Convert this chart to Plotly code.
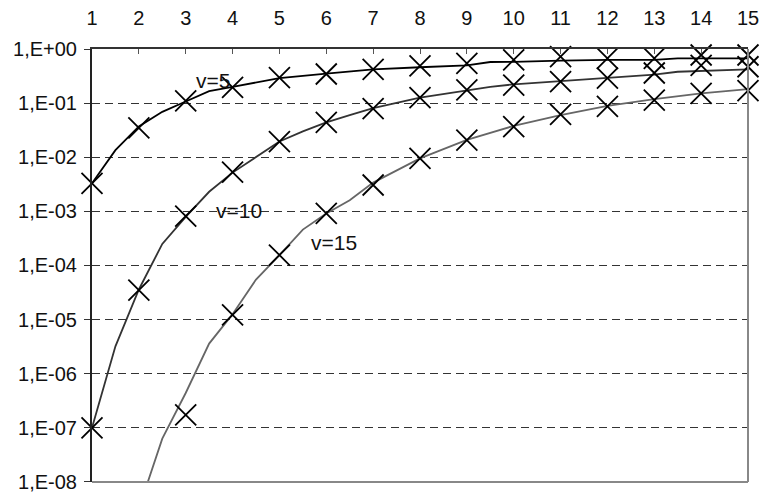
import plotly.graph_objects as go

# Marker data (integer x)
x_pts = list(range(1, 16))
v5_pts = [3.3e-3, 3.5e-2, 0.11, 0.196, 0.295, 0.345, 0.42, 0.49, 0.54, 0.63, 0.72, 0.67, 0.67, 0.775, 0.775]
v10_pts = [1e-7, 3.5e-5, 8.2e-4, 5.3e-3, 1.94e-2, 4.4e-2, 7.9e-2, 0.126, 0.175, 0.216, 0.25, 0.29, 0.36, 0.5, 0.47]
v15_pts = [None, None, 1.73e-7, 1.22e-5, 1.56e-4, 9.2e-4, 3.07e-3, 9.5e-3, 2.08e-2, 3.67e-2, 6.2e-2, 8.7e-2, 0.114, 0.152, 0.17]

# Curve data
v5_cx = [1, 1.5, 2, 2.5, 3, 3.5, 4, 5, 6, 7, 8, 9, 9.5, 10, 11, 12, 13, 13.5, 14, 15]
v5_cy = [3.3e-3, 1.35e-2, 3.7e-2, 6.9e-2, 0.107, 0.166, 0.2, 0.29, 0.35, 0.42, 0.46, 0.50,
         0.575, 0.58, 0.61, 0.63, 0.63, 0.67, 0.67, 0.67]
v10_cx = [1, 1.5, 2, 2.5, 3, 3.5, 4, 4.5, 5, 5.5, 6, 6.5, 7, 8, 9, 9.5, 10, 11, 12, 13, 13.5, 14, 15]
v10_cy = [1e-7, 3.2e-6, 3.6e-5, 2.5e-4, 7.9e-4, 2.3e-3, 5.2e-3, 1.02e-2, 1.95e-2, 3.0e-2, 4.4e-2,
          6.0e-2, 8.1e-2, 0.126, 0.175, 0.2, 0.222, 0.256, 0.295, 0.336, 0.38, 0.39, 0.42]
v15_cx = [2, 2.5, 3, 3.5, 4, 4.5, 5, 5.5, 6, 6.5, 7, 8, 9, 10, 11, 12, 13, 13.5, 14, 15]
v15_cy = [3.2e-9, 6.3e-8, 4.4e-7, 3.6e-6, 1.26e-5, 5.5e-5, 1.55e-4, 4.6e-4, 9.1e-4, 1.6e-3,
          3.4e-3, 9.5e-3, 2.1e-2, 3.8e-2, 6.0e-2, 8.9e-2, 0.119, 0.135, 0.152, 0.182]

y_tickvals = [1, 1e-1, 1e-2, 1e-3, 1e-4, 1e-5, 1e-6, 1e-7, 1e-8]
y_ticktext = ["1,E+00", "1,E-01", "1,E-02", "1,E-03", "1,E-04", "1,E-05", "1,E-06", "1,E-07", "1,E-08"]

labels = [("v=5", 3.58, -0.59), ("v=10", 4.14, -2.99), ("v=15", 6.16, -3.58)]

FONT = "Arial, Liberation Sans, sans-serif"

fig = go.Figure()
for cx, cy, col in [(v5_cx, v5_cy, "#000000"), (v10_cx, v10_cy, "#333333"), (v15_cx, v15_cy, "#666666")]:
    fig.add_trace(go.Scatter(x=cx, y=cy, mode="lines", line=dict(color=col, width=1.8),
                             showlegend=False, hoverinfo="skip"))
for ys in [v5_pts, v10_pts, v15_pts]:
    fig.add_trace(go.Scatter(x=x_pts, y=ys, mode="markers", cliponaxis=False,
                             marker=dict(symbol="x-thin", size=21, color="black",
                                         line=dict(color="black", width=1.8)),
                             showlegend=False))

for txt, lx, ly in labels:
    fig.add_annotation(x=lx, y=ly, text=txt, showarrow=False,
                       font=dict(family=FONT, size=21, color="#111111"))

# gray frame on right and bottom
fig.add_shape(type="line", xref="x domain", yref="y domain", x0=1, x1=1, y0=0, y1=1,
              line=dict(color="#888888", width=2), layer="above")
fig.add_shape(type="line", xref="x domain", yref="y domain", x0=0, x1=1, y0=0, y1=0,
              line=dict(color="#888888", width=2), layer="above")

fig.update_layout(
    width=761, height=492,
    margin=dict(l=92, r=13, t=49, b=10),
    paper_bgcolor="white", plot_bgcolor="white",
    font=dict(family=FONT, size=20, color="#111111"),
    xaxis=dict(side="top", range=[1, 15], tickvals=x_pts, ticks="inside", ticklen=5,
               tickcolor="#555555", tickwidth=1, showline=True, linecolor="#333333", linewidth=2,
               showgrid=False, zeroline=False, ticklabelstandoff=14, automargin=False,
               ticklabeloverflow="allow",
               tickfont=dict(family=FONT, size=20, color="#111111")),
    yaxis=dict(type="log", range=[-8.001, 0], tickvals=y_tickvals, ticktext=y_ticktext,
               ticks="outside", ticklen=6, tickcolor="#333333", showline=True,
               linecolor="#222222", linewidth=2, showgrid=True, gridcolor="#333333",
               gridwidth=1, griddash="8px,5px", zeroline=False, ticklabelstandoff=3,
               automargin=False, ticklabeloverflow="allow",
               tickfont=dict(family=FONT, size=20, color="#111111")),
)

fig.write_html("out.html", config={"displayModeBar": False},
               post_script="document.body.style.margin='0px';")
